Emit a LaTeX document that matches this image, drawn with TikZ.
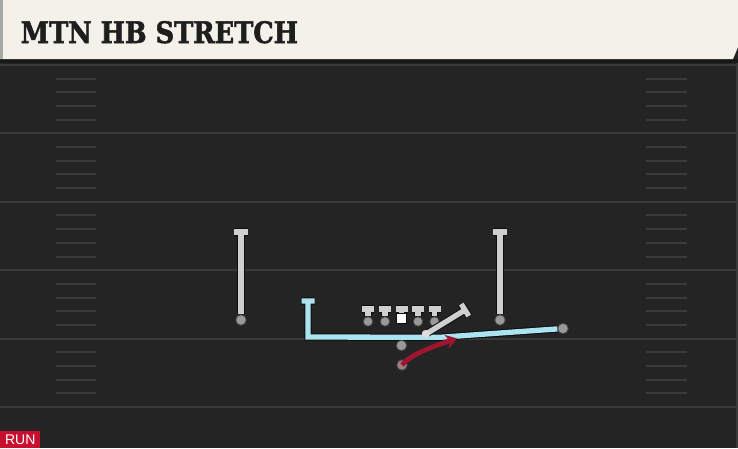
\documentclass[tikz,border=0pt]{standalone}
\usepackage{fontspec}
\usetikzlibrary{arrows.meta}
\newfontfamily\titlefont{DejaVu Serif Condensed Bold}[FakeBold=1.8]
\newfontfamily\runfont{Liberation Sans}
\definecolor{fieldc}{HTML}{242424}
\definecolor{bandc}{HTML}{181818}
\definecolor{titlec}{HTML}{F4F1EA}
\definecolor{titletext}{HTML}{1E1E1E}
\definecolor{edgec}{HTML}{A8A8A8}
\definecolor{yardc}{HTML}{3A3A3A}
\definecolor{hashc}{HTML}{3B3B3B}
\definecolor{lgray}{HTML}{CFCFCF}
\definecolor{outl}{HTML}{0E0E0E}
\definecolor{dotc}{HTML}{999999}
\definecolor{cyanr}{HTML}{ABE3F1}
\definecolor{redr}{HTML}{9E1530}
\definecolor{runred}{HTML}{C8102E}
\begin{document}
\begin{tikzpicture}[x=1pt,y=-1pt,
  yard/.style={draw=yardc,line width=2pt},
  hashm/.style={draw=hashc,line width=2pt},
  glin/.style={draw=lgray,line width=5.3pt,line join=miter,preaction={draw=outl,line width=7.3pt}},
  clin/.style={draw=cyanr,line width=5.3pt,line join=miter,preaction={draw=outl,line width=7.3pt}},
  rlin/.style={draw=redr,line width=4.8pt,-{Stealth[length=10.5pt,width=14pt,inset=2.5pt]}},
  pdot/.style={circle,fill=dotc,draw=outl!60!dotc,line width=0.8pt,minimum size=10.5pt,inner sep=0pt},
  ldot/.style={pdot,minimum size=9.5pt},
  cbox/.style={rectangle,fill=white,draw=outl,line width=0.8pt,minimum size=10pt,inner sep=0pt},
]
\useasboundingbox (0,0) rectangle (738,448);
% field
\fill[fieldc] (0,0) rectangle (738,448);
\foreach \k in {0,...,5} {\draw[yard] (0,65+68.4*\k) -- (738,65+68.4*\k);}
\foreach \k in {0,...,4} {\foreach \j in {1,...,4} {
  \draw[hashm] (56,65+68.4*\k+13.68*\j) -- (96,65+68.4*\k+13.68*\j);
  \draw[hashm] (646,65+68.4*\k+13.68*\j) -- (687,65+68.4*\k+13.68*\j);}}
\fill[yardc] (736,60) rectangle (738,448);
% title bar
\fill[bandc] (0,59) rectangle (738,63);
\fill[titlec] (0,0) -- (738,0) -- (738,47) -- (733,59) -- (0,59) -- cycle;
\fill[edgec] (0,0) rectangle (2.5,59);
\node[anchor=base west,text=titletext,inner sep=0pt,font=\titlefont\fontsize{29.6}{30}\selectfont] (title) at (20.5,43) {\scalebox{0.965}[1]{MTN HB STRETCH}};
% receivers
\coordinate (lwrT) at (241,232);
\node[pdot] (lwr) at (241,320) {};
\draw[glin] ([xshift=-7pt]lwrT) -- ([xshift=7pt]lwrT) (lwrT) -- (lwr);
\coordinate (rwrT) at (500,232);
\node[pdot] (rwr) at (500,320) {};
\draw[glin] ([xshift=-7pt]rwrT) -- ([xshift=7pt]rwrT) (rwrT) -- (rwr);
% linemen
\foreach \n/\x in {lt/368,lg/385,rg/418,rt/434.5} {
  \coordinate (\n T) at (\x,309);
  \node[ldot] (\n) at (\x,321.5) {};
  \draw[glin] ([xshift=-6pt]\n T) -- ([xshift=6pt]\n T) (\n T) -- (\n);
}
\coordinate (cT) at (401.5,309);
\node[cbox] (c) at (401.5,318) {};
\draw[glin] ([xshift=-6pt]cT) -- ([xshift=6pt]cT) (cT) -- (c);
% cyan route
\coordinate (teT) at (308,301);
\coordinate (teC) at (308,337);
\coordinate (teB) at (440,337.3);
\node[pdot] (teE) at (563,328.5) {};
\draw[clin] ([xshift=-6.5pt]teT) -- ([xshift=6.5pt]teT) (teT) -- (teC) -- (teB) -- (teE);
% slanted blocker
\node[circle,fill=lgray!85!white,inner sep=0pt,minimum size=8.5pt] (blk) at (426,334) {};
\coordinate (blkT) at (465,310);
\coordinate (blkA) at (461.3,304);
\coordinate (blkB) at (468.7,316);
\draw[glin] (blkA) -- (blkB) (blkT) -- (blk.center);
\node[circle,fill=lgray!70!white,inner sep=0pt,minimum size=8pt] at (blk) {};
% QB and RB
\node[pdot] (qb) at (401.5,345.5) {};
\node[pdot,fill=dotc!80!redr] (rb) at (402,365) {};
\coordinate (rbE) at (457,338.4);
\draw[rlin] (rb.center) .. controls (409,356) and (428,348) .. (rbE);
% run label
\node[fill=runred,text=white,anchor=south west,minimum width=40pt,minimum height=17pt,inner sep=0pt,font=\runfont\fontsize{14}{14}\selectfont] (run) at (0,448) {RUN};
\end{tikzpicture}
\end{document}
